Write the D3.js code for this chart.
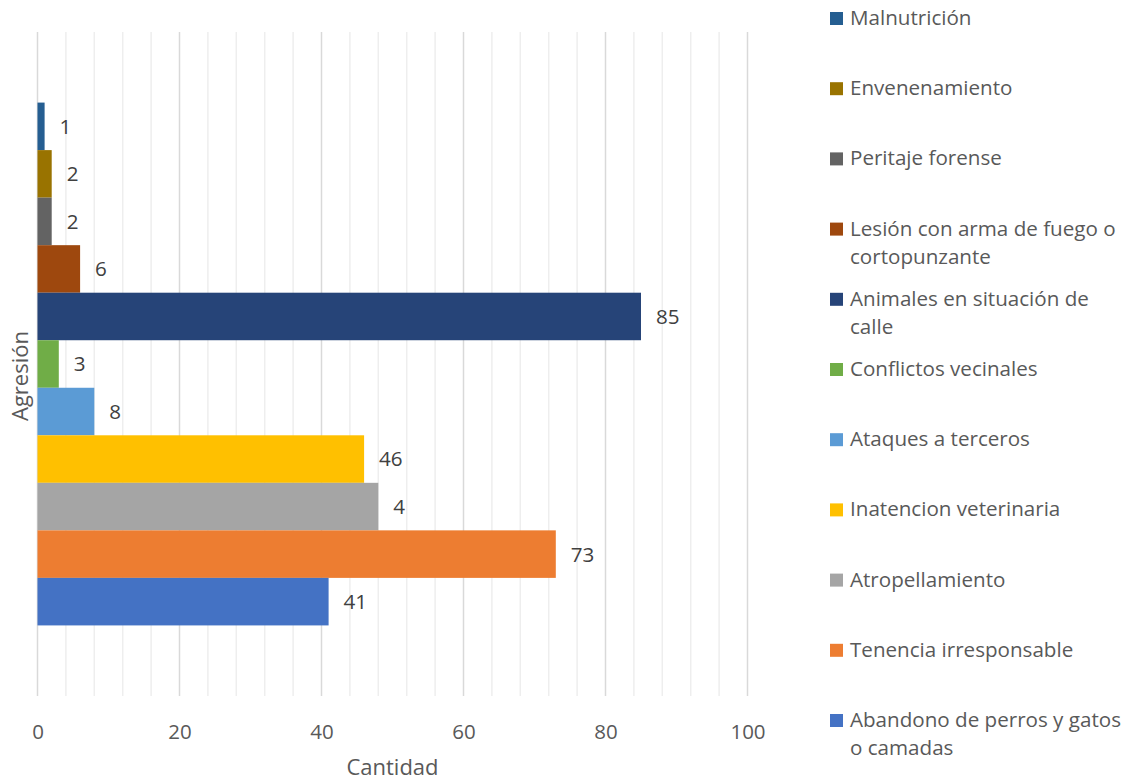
<!DOCTYPE html>
<html>
<head>
<meta charset="utf-8">
<script src="https://cdn.jsdelivr.net/npm/d3@7"></script>
<style>
  body { margin: 0; background: #fff; }
  text { font-family: "Open Sans", sans-serif; }
</style>
</head>
<body>
<svg id="chart" width="1130" height="780"></svg>
<script>
// datos (de arriba hacia abajo)
const categoria = ['Agresión'];
const series = [
  'Malnutrición',
  'Envenenamiento',
  'Peritaje forense',
  'Lesión con arma de fuego o cortopunzante',
  'Animales en situación de calle',
  'Conflictos vecinales',
  'Ataques a terceros',
  'Inatencion veterinaria',
  'Atropellamiento',
  'Tenencia irresponsable',
  'Abandono de perros y gatos o camadas'
];
const valores = [1, 2, 2, 6, 85, 3, 8, 46, 48, 73, 41];
// etiquetas tal como aparecen en el gráfico (la de atropellamiento sale cortada)
const etiquetas = ['1', '2', '2', '6', '85', '3', '8', '46', '4', '73', '41'];
const colores = ['#255E91', '#997300', '#636363', '#9E480E', '#264478', '#70AD47',
                 '#5B9BD5', '#FFC000', '#A5A5A5', '#ED7D31', '#4472C4'];
// texto de la leyenda partido en líneas
const leyendaLineas = [
  ['Malnutrición'],
  ['Envenenamiento'],
  ['Peritaje forense'],
  ['Lesión con arma de fuego o', 'cortopunzante'],
  ['Animales en situación de', 'calle'],
  ['Conflictos vecinales'],
  ['Ataques a terceros'],
  ['Inatencion veterinaria'],
  ['Atropellamiento'],
  ['Tenencia irresponsable'],
  ['Abandono de perros y gatos', 'o camadas']
];
const ticksMayores = [0, 20, 40, 60, 80, 100];

const svg = d3.select('#chart');
const margenIzq = 37.5, margenDer = 747.5, margenSup = 32, margenInf = 696;

const x = d3.scaleLinear().domain([0, 100]).range([margenIzq, margenDer]);

const y0 = d3.scaleBand()
    .domain(categoria)
    .range([margenSup, margenInf])
    .paddingInner(0)
    .paddingOuter(0.135);

const y1 = d3.scaleBand()
    .domain(series)
    .range([0, y0.bandwidth()]);

// líneas de cuadrícula menores y mayores
const menores = d3.range(0, 101, 4).filter(d => d % 20 !== 0);
svg.append('g')
    .selectAll('line')
    .data(menores)
    .enter().append('line')
    .attr('x1', d => x(d)).attr('x2', d => x(d))
    .attr('y1', margenSup).attr('y2', margenInf)
    .attr('stroke', '#eeeeee')
    .attr('stroke-width', 1.5);

svg.append('g')
    .selectAll('line')
    .data(ticksMayores)
    .enter().append('line')
    .attr('x1', d => x(d)).attr('x2', d => x(d))
    .attr('y1', margenSup).attr('y2', margenInf)
    .attr('stroke', '#d9d9d9')
    .attr('stroke-width', 1.5);

// eje x (solo etiquetas)
const ejeX = svg.append('g')
    .attr('transform', `translate(0,${margenInf})`)
    .call(d3.axisBottom(x).tickValues(ticksMayores).tickSize(0).tickPadding(28));
ejeX.select('.domain').remove();
ejeX.selectAll('text')
    .attr('font-family', '"Open Sans", sans-serif')
    .attr('font-size', 20.5)
    .attr('fill', '#595959');

// barras
const grupo = svg.append('g')
    .attr('transform', `translate(0,${y0(categoria[0])})`);

grupo.selectAll('rect')
    .data(series)
    .enter().append('rect')
    .attr('x', x(0))
    .attr('y', d => y1(d))
    .attr('width', (d, i) => x(valores[i]) - x(0))
    .attr('height', y1.bandwidth())
    .attr('fill', (d, i) => colores[i]);

grupo.selectAll('text')
    .data(series)
    .enter().append('text')
    .attr('x', (d, i) => x(valores[i]) + 15)
    .attr('y', d => y1(d) + y1.bandwidth() / 2)
    .attr('dy', '0.36em')
    .attr('font-size', 20.6)
    .attr('fill', '#404040')
    .text((d, i) => etiquetas[i]);

// títulos de ejes
svg.append('text')
    .attr('x', (margenIzq + margenDer) / 2)
    .attr('y', 775)
    .attr('text-anchor', 'middle')
    .attr('font-size', 22)
    .attr('fill', '#595959')
    .text('Cantidad');

svg.append('text')
    .attr('transform', `translate(28,${(margenSup + margenInf) / 2 + 12}) rotate(-90)`)
    .attr('text-anchor', 'middle')
    .attr('font-size', 22)
    .attr('fill', '#595959')
    .text(categoria[0]);

// leyenda
const leyenda = svg.append('g');
const item = leyenda.selectAll('g')
    .data(series)
    .enter().append('g')
    .attr('transform', (d, i) => `translate(830,${25 + i * 70.2})`);

item.append('rect')
    .attr('x', 0)
    .attr('y', -13)
    .attr('width', 13)
    .attr('height', 13)
    .attr('fill', (d, i) => colores[i]);

item.append('text')
    .attr('x', 20)
    .attr('font-size', 20.6)
    .attr('fill', '#595959')
    .selectAll('tspan')
    .data((d, i) => leyendaLineas[i])
    .enter().append('tspan')
    .attr('x', 20)
    .attr('dy', (d, j) => j === 0 ? 0 : 28)
    .text(d => d);
</script>
</body>
</html>
